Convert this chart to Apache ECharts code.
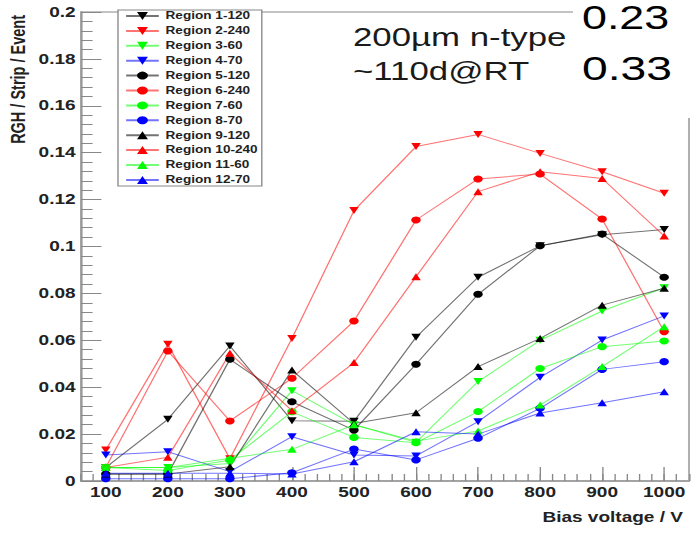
<!DOCTYPE html>
<html><head><meta charset="utf-8">
<script src="https://cdn.jsdelivr.net/npm/echarts@6/dist/echarts.min.js"></script>
<style>
html,body{margin:0;padding:0;background:#fff;overflow:hidden;}
#wrap{width:696px;height:534px;overflow:hidden;position:relative;background:#fff;}
#main{width:512px;height:534px;transform:scaleX(1.359375);transform-origin:0 0;}
</style></head><body>
<div id="wrap"><div id="main"></div></div>
<script>
// ---- data ----
const voltages = [100, 200, 300, 400, 500, 600, 700, 800, 900, 1000];
const xTickLabels = [100, 200, 300, 400, 500, 600, 700, 800, 900, 1000];

const region1_120  = [0.0058, 0.0263, 0.0576, 0.0257, 0.0255, 0.0613, 0.0869, 0.1003, 0.1050, 0.1073];
const region2_240  = [0.0132, 0.0583, 0.0095, 0.0608, 0.1153, 0.1426, 0.1478, 0.1397, 0.1319, 0.1227];
const region3_60   = [0.0058, 0.0058, 0.0075, 0.0385, 0.0240, 0.0165, 0.0424, 0.0600, 0.0725, 0.0824];
const region4_70   = [0.0111, 0.0125, 0.0040, 0.0189, 0.0111, 0.0107, 0.0253, 0.0442, 0.0601, 0.0704];
const region5_120  = [0.0030, 0.0030, 0.0519, 0.0338, 0.0217, 0.0498, 0.0796, 0.1003, 0.1053, 0.0869];
const region6_240  = [0.0058, 0.0554, 0.0256, 0.0438, 0.0682, 0.1113, 0.1288, 0.1309, 0.1117, 0.0637];
const region7_60   = [0.0058, 0.0045, 0.0090, 0.0295, 0.0186, 0.0163, 0.0296, 0.0480, 0.0573, 0.0597];
const region8_70   = [0.0010, 0.0010, 0.0010, 0.0035, 0.0136, 0.0090, 0.0182, 0.0310, 0.0476, 0.0509];
const region9_120  = [0.0030, 0.0030, 0.0061, 0.0473, 0.0245, 0.0291, 0.0488, 0.0608, 0.0750, 0.0822];
const region10_240 = [0.0058, 0.0101, 0.0545, 0.0300, 0.0505, 0.0871, 0.1234, 0.1319, 0.1290, 0.1045];
const region11_60  = [0.0058, 0.0058, 0.0097, 0.0135, 0.0240, 0.0170, 0.0213, 0.0324, 0.0488, 0.0658];
const region12_70  = [0.0033, 0.0033, 0.0033, 0.0030, 0.0082, 0.0210, 0.0200, 0.0290, 0.0334, 0.0381];

const regionNames = ['Region 1-120', 'Region 2-240', 'Region 3-60', 'Region 4-70',
                     'Region 5-120', 'Region 6-240', 'Region 7-60', 'Region 8-70',
                     'Region 9-120', 'Region 10-240', 'Region 11-60', 'Region 12-70'];
const regionValues = [region1_120, region2_240, region3_60, region4_70,
                      region5_120, region6_240, region7_60, region8_70,
                      region9_120, region10_240, region11_60, region12_70];
const palette = ['#000000', '#ff0000', '#00ff00', '#0000ff'];

// ---- chart ----
const FONT = "'Liberation Sans', Arial, Helvetica, sans-serif";
const chart = echarts.init(document.getElementById('main'), null, {renderer: 'svg'});

const series = regionValues.map((vals, i) => {
  const group = Math.floor(i / 4);
  const color = palette[i % 4];
  return {
    name: regionNames[i],
    type: 'line',
    xAxisIndex: 0,
    yAxisIndex: 0,
    data: voltages.map((v, k) => [v, vals[k]]),
    symbol: group === 1 ? 'circle' : 'triangle',
    symbolRotate: group === 0 ? 180 : 0,
    symbolSize: 7,
    showSymbol: true,
    itemStyle: {color: color},
    lineStyle: {color: color, width: 1, opacity: 0.55},
    emphasis: {disabled: true},
    silent: true
  };
});

const option = {
  animation: false,
  backgroundColor: '#ffffff',
  textStyle: {fontFamily: FONT},
  grid: {
    left: 59.6, right: 5.15, top: 12, bottom: 53,
    show: true, borderColor: '#b0b0b0', borderWidth: 1.5, backgroundColor: 'transparent'
  },
  xAxis: [{
    type: 'value', min: 60, max: 1040, position: 'bottom',
    axisLine: {show: true, lineStyle: {color: '#999', width: 1.5}},
    axisTick: {show: true, inside: true, length: 14, customValues: xTickLabels, lineStyle: {color: '#888', width: 1}},
    axisLabel: {show: true, customValues: xTickLabels, margin: 4, fontSize: 14, fontWeight: 'bold', color: '#222', fontFamily: FONT,
                formatter: v => String(v)},
    splitLine: {show: false}
  }, {
    type: 'value', min: 60, max: 1040, interval: 20, position: 'bottom',
    axisLine: {show: false},
    axisTick: {show: true, inside: true, length: 7, lineStyle: {color: '#888', width: 1}},
    axisLabel: {show: false},
    splitLine: {show: false}
  }],
  yAxis: {
    type: 'value', min: 0, max: 0.2, interval: 0.02,
    axisLine: {show: true, lineStyle: {color: '#999', width: 1.5}},
    axisTick: {show: true, inside: true, length: 15, lineStyle: {color: '#888', width: 1}},
    minorTick: {show: true, splitNumber: 5, length: 8.5, lineStyle: {color: '#888', width: 1}},
    axisLabel: {margin: 4, fontSize: 14, fontWeight: 'bold', color: '#222', fontFamily: FONT,
                formatter: v => String(+v.toFixed(2))},
    splitLine: {show: false}
  },
  legend: {
    data: regionNames,
    orient: 'vertical',
    left: 86.8, top: 10,
    itemWidth: 24, itemHeight: 10, itemGap: 4.9,
    padding: [1, 3, 1, 5],
    backgroundColor: '#ffffff',
    borderColor: '#888', borderWidth: 1,
    selectedMode: false,
    textStyle: {fontSize: 10, fontWeight: 'bold', color: '#222', fontFamily: FONT},
    z: 10
  },
  graphic: [
    {type: 'rect', shape: {x: 421.5, y: 0, width: 100, height: 118}, style: {fill: '#ffffff'}, z: 100, silent: true},
    {type: 'text', x: 259.7, y: 37, z: 101, silent: true,
     style: {text: '200µm n-type', fontSize: 25.6, fontFamily: FONT, fill: '#1a1a1a', textAlign: 'left', textVerticalAlign: 'middle'}},
    {type: 'text', x: 259.7, y: 71, z: 101, silent: true,
     style: {text: '~110d@RT', fontSize: 25.6, fontFamily: FONT, fill: '#1a1a1a', textAlign: 'left', textVerticalAlign: 'middle'}},
    {type: 'text', x: 428.1, y: 17, z: 101, silent: true,
     style: {text: '0.23', fontSize: 33, fontFamily: FONT, fill: '#000', textAlign: 'left', textVerticalAlign: 'middle'}},
    {type: 'text', x: 428.1, y: 68.5, z: 101, silent: true,
     style: {text: '0.33', fontSize: 34, fontFamily: FONT, fill: '#000', textAlign: 'left', textVerticalAlign: 'middle'}},
    {type: 'text', x: 13.2, y: 15, rotation: Math.PI / 2, z: 101, silent: true,
     style: {text: 'RGH / Strip / Event', fontSize: 14.5, fontWeight: 'bold', fontFamily: FONT, fill: '#222', textAlign: 'right', textVerticalAlign: 'middle'}},
    {type: 'text', x: 502.4, y: 517, z: 101, silent: true,
     style: {text: 'Bias voltage / V', fontSize: 14, fontWeight: 'bold', fontFamily: FONT, fill: '#222', textAlign: 'right', textVerticalAlign: 'middle'}}
  ],
  series: series
};
chart.setOption(option);
</script>
</body></html>
